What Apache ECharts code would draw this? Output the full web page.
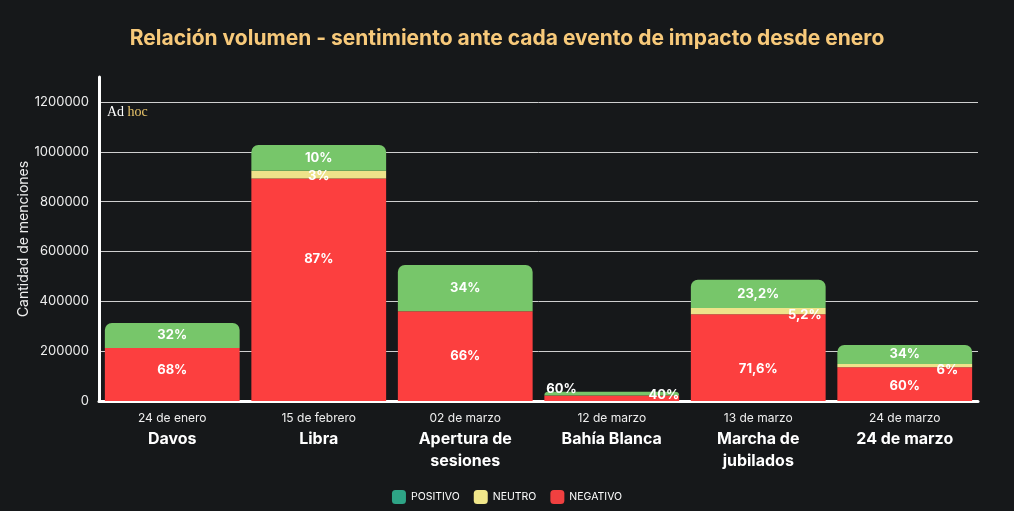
<!DOCTYPE html>
<html><head><meta charset="utf-8">
<script src="https://cdn.jsdelivr.net/npm/echarts@6/dist/echarts.min.js"></script>
<style>html,body{margin:0;padding:0;background:#16181a;}#c{width:1014px;height:511px;}</style>
</head><body><div id="c"></div>
<script>
const dates = ['24 de enero','15 de febrero','02 de marzo','12 de marzo','13 de marzo','24 de marzo'];
const events = ['Davos','Libra','Apertura de\nsesiones','Bahía Blanca','Marcha de\njubilados','24 de marzo'];
const positivo = [100000, 103000, 186000, 15000, 113000, 76500];
const neutro = [0, 31000, 0, 0, 25500, 13500];
const negativo = [213000, 893000, 360000, 22500, 348000, 135000];
const posPct = ['32%','10%','34%','40%','23,2%','34%'];
const neuPct = ['', '3%', '', '', '5,2%', '6%'];
const negPct = ['68%','87%','66%','60%','71,6%','60%'];

const F = 'Inter, "Noto Sans", sans-serif';
const cats = dates.map((d,i)=>d+'|'+events[i]);
const lbl = {show:true,color:'#fff',fontWeight:'bold',fontSize:13,fontFamily:F};

// label placement tweaks (style only)
const posLabel = [{},{},{},{position:'insideRight',distance:0,offset:[0,2]},{},{}];
const neuLabel = [{},{offset:[0,2]},{},{},{position:'insideRight',distance:4,offset:[0,4]},{position:'insideRight',distance:14,offset:[0,4]}];
const negLabel = [{offset:[0,-4]},{offset:[0,-31]},{},{position:'insideLeft',distance:2,offset:[0,-9]},{offset:[0,11]},{offset:[0,2]}];

function build(vals, pcts, tweaks, color){
  return vals.map((v,i)=>({value:v,itemStyle:{color:color},
    label:Object.assign({},lbl,{formatter:pcts[i]},tweaks[i])}));
}

const chart = echarts.init(document.getElementById('c'));
chart.setOption({
  backgroundColor:'#16181a',
  title:{text:'Relación volumen - sentimiento ante cada evento de impacto desde enero',left:'center',top:23,
    textStyle:{color:'#f7c97a',fontSize:21,fontWeight:'bold',fontFamily:F}},
  graphic:[{type:'text',left:107,top:105,style:{text:'{a|Ad} {b|hoc}',rich:{
    a:{fill:'#fff',fontFamily:'"Liberation Serif", serif',fontSize:14},
    b:{fill:'#e9c46a',fontFamily:'"Liberation Serif", serif',fontSize:14}}}}],
  legend:{top:485,left:'center',itemWidth:14,itemHeight:14,itemGap:14,
    textStyle:{color:'#fff',fontSize:10.5,fontFamily:F},
    data:['POSITIVO','NEUTRO','NEGATIVO']},
  grid:{left:99,right:36,top:77,bottom:110},
  xAxis:{type:'category',data:cats,
    axisLine:{lineStyle:{color:'#fff',width:3}},axisTick:{show:false},
    axisLabel:{interval:0,margin:8,formatter:function(v){
      const p=v.split('|');return '{d|'+p[0]+'}\n'+p[1].split('\n').map(s=>'{e|'+s+'}').join('\n');},
      rich:{d:{color:'#eee',fontSize:12,fontFamily:F,lineHeight:19},
            e:{color:'#fff',fontSize:16,fontWeight:'bold',fontFamily:F,lineHeight:22}}}},
  yAxis:{type:'value',min:0,max:1300000,interval:200000,
    name:'Cantidad de menciones',nameLocation:'middle',nameGap:68,nameRotate:90,nameMoveOverlap:false,
    nameTextStyle:{color:'#eee',fontSize:14,fontFamily:F},
    axisLine:{show:true,lineStyle:{color:'#fff',width:3}},axisTick:{show:false},
    axisLabel:{color:'#eee',fontSize:13,fontFamily:F,margin:10,
      formatter:function(v){return v>1200000?'':String(v);}},
    splitLine:{show:true,showMaxLine:false,lineStyle:{color:'#cfcfcf',width:1}}},
  series:[
    {name:'NEGATIVO',type:'bar',stack:'t',barCategoryGap:'8%',itemStyle:{color:'#f04040'},
      data:build(negativo,negPct,negLabel,'#fc3f3f')},
    {name:'NEUTRO',type:'bar',stack:'t',itemStyle:{color:'#f0e68a'},
      data:build(neutro,neuPct,neuLabel,'#eee38a')},
    {name:'POSITIVO',type:'bar',stack:'t',itemStyle:{color:'#2ea486',borderRadius:[7,7,0,0]},
      data:build(positivo,posPct,posLabel,'#77c66a').map(d=>{d.itemStyle.borderRadius=[7,7,0,0];return d;})}
  ]
});
</script></body></html>
